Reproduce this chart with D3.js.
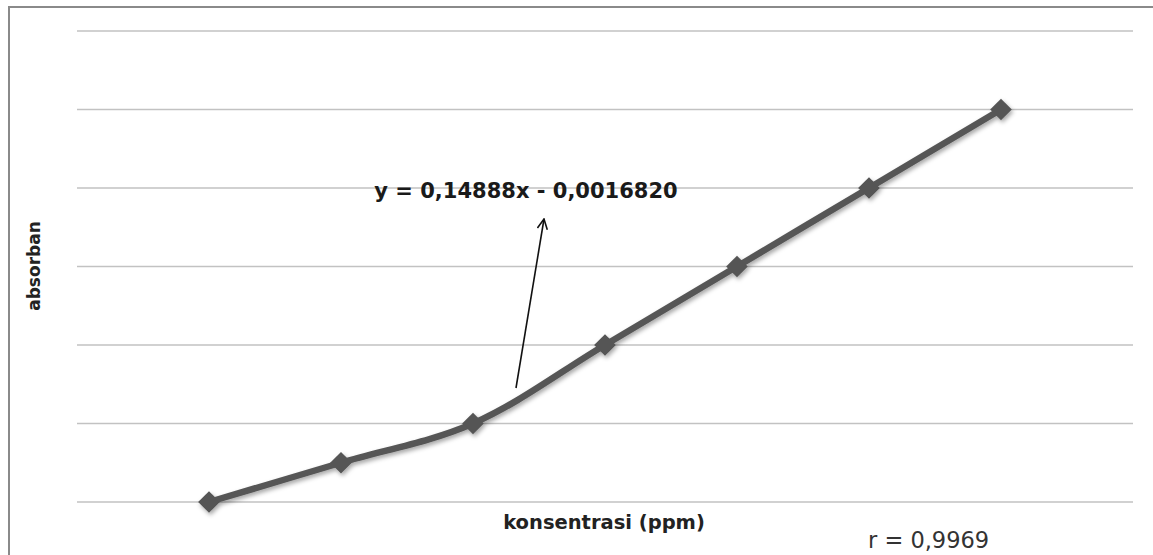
<!DOCTYPE html>
<html>
<head>
<meta charset="utf-8">
<script src="https://cdn.jsdelivr.net/npm/d3@7"></script>
<style>
  html, body { margin: 0; padding: 0; background: #fff; }
  svg { display: block; }
</style>
</head>
<body>
<script>
// data
var sampel = [1, 2, 3, 4, 5, 6, 7];            // x position of each standard
var absorban = [0, 0.05, 0.1, 0.2, 0.3, 0.4, 0.5];
var gridTicks = [0, 0.1, 0.2, 0.3, 0.4, 0.5, 0.6];
var persamaan = "y = 0,14888x - 0,0016820";
var korelasi = "r = 0,9969";

var width = 1153, height = 555;

var svg = d3.select("body").append("svg")
    .attr("width", width)
    .attr("height", height);

// shadow for line and markers
var defs = svg.append("defs");
var f = defs.append("filter").attr("id", "shadow")
    .attr("x", "-20%").attr("y", "-20%").attr("width", "140%").attr("height", "140%");
f.append("feDropShadow")
    .attr("dx", 1.5).attr("dy", 2.5).attr("stdDeviation", 2)
    .attr("flood-color", "#000").attr("flood-opacity", 0.35);

var arrowMarker = defs.append("marker").attr("id", "arrow")
    .attr("viewBox", "0 0 12 12").attr("refX", 11).attr("refY", 6)
    .attr("markerWidth", 12).attr("markerHeight", 12)
    .attr("markerUnits", "userSpaceOnUse")
    .attr("orient", "auto");
arrowMarker.append("path")
    .attr("d", "M1,1 L11,6 L1,11")
    .attr("fill", "none").attr("stroke", "#111").attr("stroke-width", 1.6);

// frame (only left and top edges visible in the picture)
svg.append("path")
    .attr("d", "M9," + height + " L9,7 L" + width + ",7")
    .attr("fill", "none")
    .attr("stroke", "#8a8a8a")
    .attr("stroke-width", 2);

// scales
var x = d3.scaleLinear().domain([0, 8]).range([77, 1133]);
var y = d3.scaleLinear().domain([0, 0.6]).range([502, 31]);

// gridlines
svg.append("g").selectAll("line")
    .data(gridTicks)
    .enter().append("line")
    .attr("x1", x(0)).attr("x2", x(8))
    .attr("y1", function(d) { return y(d); })
    .attr("y2", function(d) { return y(d); })
    .attr("stroke", "#c2c2c2")
    .attr("stroke-width", 1.6);

// smoothed series line
var line = d3.line()
    .x(function(d, i) { return x(sampel[i]); })
    .y(function(d) { return y(d); })
    .curve(d3.curveCatmullRom.alpha(0.5));

var series = svg.append("g").attr("filter", "url(#shadow)");

series.append("path")
    .datum(absorban)
    .attr("d", line)
    .attr("fill", "none")
    .attr("stroke", "#575757")
    .attr("stroke-width", 6.5)
    .attr("stroke-linejoin", "round");

series.selectAll("path.marker")
    .data(absorban)
    .enter().append("path")
    .attr("class", "marker")
    .attr("d", d3.symbol().type(d3.symbolDiamond2).size(300))
    .attr("transform", function(d, i) {
        return "translate(" + x(sampel[i]) + "," + y(d) + ")";
    })
    .attr("fill", "#555");

// axis titles
svg.append("text")
    .attr("transform", "translate(40," + 266 + ") rotate(-90)")
    .attr("text-anchor", "middle")
    .attr("font-family", "DejaVu Sans")
    .attr("font-weight", "bold")
    .attr("font-size", 17)
    .attr("fill", "#222")
    .text("absorban");

svg.append("text")
    .attr("x", 604).attr("y", 529)
    .attr("text-anchor", "middle")
    .attr("font-family", "DejaVu Sans")
    .attr("font-weight", "bold")
    .attr("font-size", 19.5)
    .attr("fill", "#222")
    .text("konsentrasi (ppm)");

// regression equation with arrow
svg.append("text")
    .attr("x", 526).attr("y", 198)
    .attr("text-anchor", "middle")
    .attr("font-family", "DejaVu Sans")
    .attr("font-weight", "bold")
    .attr("font-size", 21)
    .attr("fill", "#1a1a1a")
    .text(persamaan);

svg.append("line")
    .attr("x1", 516).attr("y1", 388)
    .attr("x2", 544).attr("y2", 219)
    .attr("stroke", "#111")
    .attr("stroke-width", 1.6)
    .attr("marker-end", "url(#arrow)");

svg.append("text")
    .attr("x", 868).attr("y", 548)
    .attr("font-family", "DejaVu Sans")
    .attr("font-size", 22.5)
    .attr("fill", "#333")
    .text(korelasi);
</script>
</body>
</html>
